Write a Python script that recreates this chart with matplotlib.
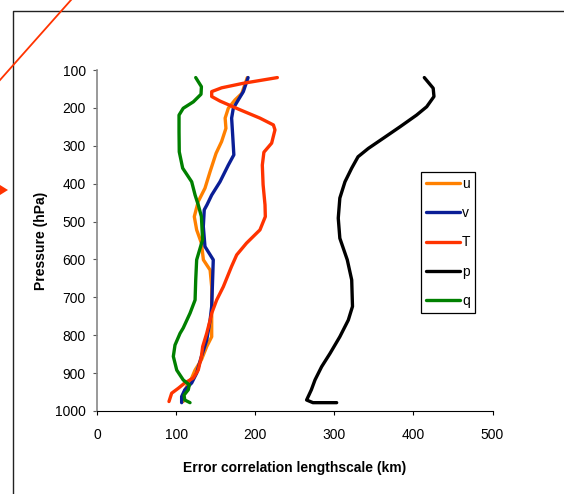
import matplotlib
matplotlib.use('Agg')
import matplotlib.pyplot as plt
from matplotlib.lines import Line2D
from matplotlib.patches import Polygon

plt.rcParams['font.family'] = ['Liberation Sans', 'DejaVu Sans']

# error correlation lengthscale (km) against pressure (hPa)
u_p = [120, 162, 179, 201, 227, 254, 289, 320, 368, 412, 447, 487, 522, 557, 601,
       628, 672, 707, 760, 804, 830, 865, 892, 913, 935, 957, 975]
u_x = [190, 183, 174.5, 166, 162, 163, 157.5, 150.5, 143, 136.5, 128, 123, 126, 132,
       134.5, 143, 145, 145, 145, 145, 138.7, 132, 124, 119.7, 113.4, 109, 109]

v_p = [120, 157, 179, 201, 227, 271, 324, 351, 395, 430, 456, 469, 513, 566, 601,
       663, 724, 760, 813, 856, 900, 926, 944, 962, 978]
v_x = [191, 185, 178.6, 172.3, 170.2, 171.5, 173, 166, 155.5, 145, 139, 135.6, 134.4,
       136.5, 147, 146, 145, 143, 138.7, 132, 126, 119.7, 111, 107, 107]

t_p = [120, 135, 147, 157, 170, 182, 205, 227, 245, 258, 293, 317, 351, 403, 456,
       487, 522, 557, 588, 619, 672, 707, 742, 760, 795, 830, 856, 892, 913, 926,
       940, 953, 975]
t_x = [228, 185, 157.6, 145, 145, 155.5, 180.8, 206, 223, 225, 220.8, 211, 209, 210,
       212.4, 212.8, 206, 189, 176.6, 170, 159.7, 151.3, 145, 143, 138.7, 133.6, 132,
       128, 121.7, 111, 102.8, 94.4, 91]

pp_p = [120, 148, 170, 197, 219, 250, 280, 307, 329, 359, 395, 438, 491, 544, 601,
        654, 724, 760, 804, 848, 883, 918, 944, 971, 978, 978]
pp_x = [413.8, 425, 426, 416.8, 404, 383, 362, 343, 330, 322, 313.5, 307, 305, 307,
        316.4, 322, 323, 317.7, 307, 294.6, 284, 275.6, 271, 265, 273, 303]

q_p = [120, 144, 164, 184, 201, 219, 263, 316, 359, 395, 430, 456, 487, 548, 601,
       654, 707, 742, 781, 795, 826, 856, 892, 918, 931, 944, 958, 971, 978]
q_x = [124.8, 132, 131.5, 121.8, 109, 103.7, 103.7, 104, 108.3, 119.7, 124, 128, 132,
       133.5, 126, 124.8, 124, 117.6, 109, 105, 98.6, 96.5, 100.8, 109, 116.7, 115.4,
       110, 111, 117.6]

series = [('u', u_x, u_p, '#ff8000'),
          ('v', v_x, v_p, '#0a1e96'),
          ('T', t_x, t_p, '#ff3300'),
          ('p', pp_x, pp_p, '#000000'),
          ('q', q_x, q_p, '#008000')]

x_ticks = [0, 100, 200, 300, 400, 500]
y_ticks = [100, 200, 300, 400, 500, 600, 700, 800, 900, 1000]

W, H = 564, 494
fig = plt.figure(figsize=(W / 100, H / 100), dpi=100)
ax = fig.add_axes([97 / W, 1 - 411 / H, 395.5 / W, 341 / H])

for name, x, y, c in series:
    ax.plot(x, y, color=c, lw=2.4, label=name, solid_joinstyle='round',
            solid_capstyle='round')

ax.set_xlim(0, 500)
ax.set_ylim(1000, 100)
ax.set_xticks(x_ticks)
ax.set_yticks(y_ticks)
ax.tick_params(labelsize=10)
ax.tick_params(axis='x', length=3, pad=9, color='black')
ax.tick_params(axis='y', length=3, pad=5, color='#555555')

for s in ['top', 'right']:
    ax.spines[s].set_visible(False)
ax.spines['left'].set_color('#888888')
ax.spines['left'].set_linewidth(1.2)
ax.spines['bottom'].set_color('black')

ax.set_xlabel('Error correlation lengthscale (km)', fontsize=10,
              fontweight='bold', labelpad=14)
ax.set_ylabel('Pressure (hPa)', fontsize=10, fontweight='bold', labelpad=5)

leg = ax.legend(loc='upper left', bbox_to_anchor=(0.819, 0.701),
                borderaxespad=0, fontsize=10, handlelength=2.5,
                handletextpad=0.1, labelspacing=1.1, borderpad=0.35,
                fancybox=False, framealpha=1, edgecolor='black')
leg.get_frame().set_linewidth(0.9)

# outer frame (open to right and bottom), decorative red line and arrow
fig.add_artist(Line2D([13 / W, 13 / W, 1.0], [0.0, 1 - 11 / H, 1 - 11 / H],
                      color='#222222', lw=1.0))
fig.add_artist(Line2D([0.0, 71 / W], [1 - 80 / H, 1.0], color='#ff3300', lw=1.3))
fig.add_artist(Polygon([[0 / W, 1 - 185 / H], [8 / W, 1 - 190 / H],
                        [0 / W, 1 - 195 / H]], closed=True,
                       facecolor='#ff3300', edgecolor='none'))

fig.savefig('out.png', dpi=100)
